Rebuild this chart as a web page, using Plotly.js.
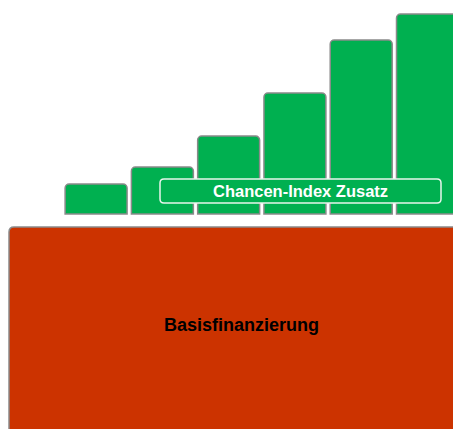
<!DOCTYPE html>
<html>
<head>
<meta charset="utf-8">
<script src="https://cdn.plot.ly/plotly-3.0.1.min.js"></script>
<style>html,body{margin:0;padding:0;background:#fff;}</style>
</head>
<body>
<div id="chart" style="width:453px;height:429px;"></div>
<script>
// Data
const categories = [1, 2, 3, 4, 5, 6];
const chanceValues = [30, 47, 78, 121, 174, 200];
const zusatzLabel = "Chancen-Index Zusatz";
const basisLabel = "Basisfinanzierung";

const W = 453, H = 429;
function px(x){ return x / W; }
function py(y){ return 1 - y / H; }
function roundRect(x0, y0, x1, y1, r){
  const p = (x,y)=> px(x).toFixed(5) + ',' + py(y).toFixed(5);
  return 'M' + p(x0+r,y0) + ' L' + p(x1-r,y0) + ' Q' + p(x1,y0) + ' ' + p(x1,y0+r) +
         ' L' + p(x1,y1-r) + ' Q' + p(x1,y1) + ' ' + p(x1-r,y1) +
         ' L' + p(x0+r,y1) + ' Q' + p(x0,y1) + ' ' + p(x0,y1-r) +
         ' L' + p(x0,y0+r) + ' Q' + p(x0,y0) + ' ' + p(x0+r,y0) + ' Z';
}

const trace = {
  type: 'bar',
  x: categories.map(c => c - 1),
  y: chanceValues,
  width: 0.935,
  marker: {
    color: '#00B050',
    line: {color: '#8a8a8a', width: 1.5},
    cornerradius: 4
  },
  hoverinfo: 'none'
};

const layout = {
  width: W, height: H,
  margin: {l:0, r:0, t:0, b:0},
  paper_bgcolor: '#ffffff',
  plot_bgcolor: '#ffffff',
  showlegend: false,
  xaxis: {range: [-1.45, 5.385], visible: false, fixedrange: true},
  yaxis: {range: [-215, 214], visible: false, fixedrange: true},
  shapes: [
    {type:'path', xref:'paper', yref:'paper', path: roundRect(9, 227, 470, 450, 5),
     fillcolor:'#CC3300', line:{color:'#8a8a8a', width:1.5}, layer:'below'},
    {type:'path', xref:'paper', yref:'paper', path: roundRect(160, 179, 441, 203, 4),
     fillcolor:'#00B050', line:{color:'#e8f5ec', width:1.5}, layer:'above'}
  ],
  annotations: [
    {xref:'paper', yref:'paper', x: px(300.5), y: py(191), text: '<b>' + zusatzLabel + '</b>',
     showarrow:false, font:{family:'Liberation Sans, Arial, sans-serif', size:16.5, color:'#ffffff'},
     xanchor:'center', yanchor:'middle'},
    {xref:'paper', yref:'paper', x: px(241.5), y: py(325), text: '<b>' + basisLabel + '</b>',
     showarrow:false, font:{family:'Liberation Sans, Arial, sans-serif', size:18, color:'#000000'},
     xanchor:'center', yanchor:'middle'}
  ]
};

Plotly.newPlot('chart', [trace], layout, {displayModeBar:false, staticPlot:true});
</script>
</body>
</html>
